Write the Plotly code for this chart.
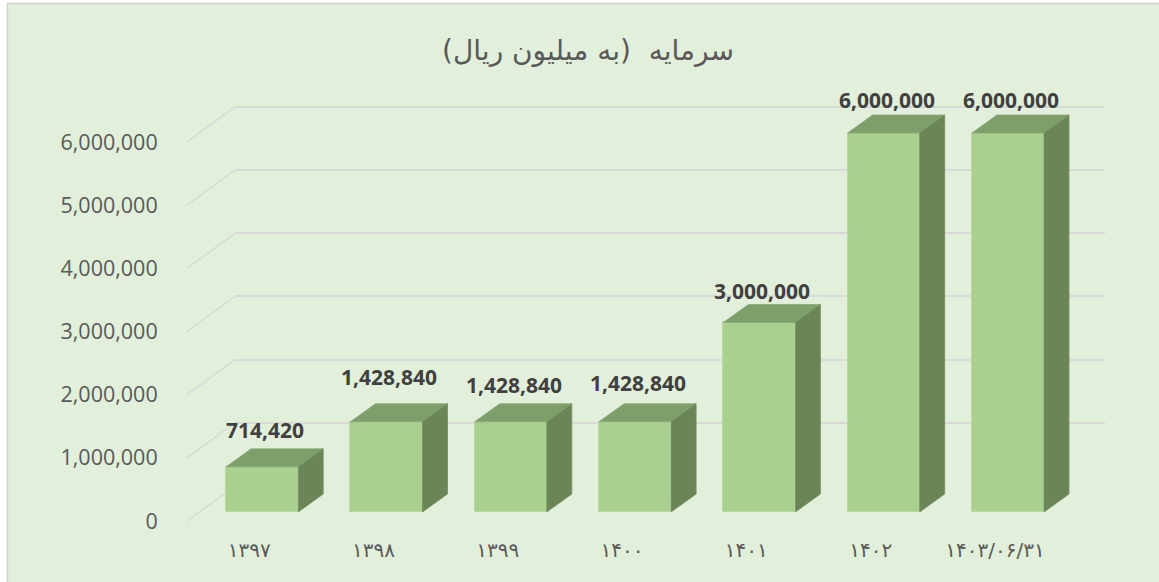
import plotly.graph_objects as go

# ---------------- data ----------------
CATEGORIES = ["۱۳۹۷", "۱۳۹۸", "۱۳۹۹", "۱۴۰۰", "۱۴۰۱", "۱۴۰۲", "۱۴۰۳/۰۶/۳۱"]
VALUES = [714420, 1428840, 1428840, 1428840, 3000000, 6000000, 6000000]
Y_TICKS = [0, 1000000, 2000000, 3000000, 4000000, 5000000, 6000000]
TITLE = "\u200fسرمایه  (به میلیون ریال)\u200f"

# ---------------- geometry / style ----------------
W, H = 1159, 582
PX_PER_CAT = 124.3
PX_PER_VAL = 63.17 / 1e6
PLOT_H = 421
FRONT_LEFT, FRONT_BASE = 187, 521      # front plane (axis labels)
BAR_DX, BAR_DY = 13, 9                 # bar front face offset from front plane
BACK_DX, BACK_DY = 48, 35              # back wall offset from front plane
DEPTH_DX, DEPTH_DY = 25, 18            # bar depth
YMAX = PLOT_H / PX_PER_VAL
NCAT = len(CATEGORIES)
XR = [-0.5, NCAT - 0.5]
PLOT_W = PX_PER_CAT * NCAT

BG = "#E2EFDA"
FRONT = "#A9D08E"
TOP = "#7F9F6A"
SIDE = "#6A8558"
GRID = "#D9D9D9"
TXT = "#595959"


def xdom(left):
    return [left / W, (left + PLOT_W) / W]


def ydom(base):
    return [(H - base) / H, (H - base + PLOT_H) / H]


def ypaper(base, v):
    return (H - base + v * PX_PER_VAL) / H


fig = go.Figure()

# back wall (gridlines) subplot x/y
fig.add_trace(go.Scatter(x=[], y=[], xaxis="x", yaxis="y", showlegend=False, hoverinfo="skip"))

# bars subplot x2/y2
xs = list(range(NCAT))
fig.add_trace(go.Bar(
    x=xs, y=VALUES, xaxis="x2", yaxis="y2", width=0.58,
    marker=dict(color=FRONT, line=dict(color="#B8DAA0", width=1)),
    showlegend=False, hovertemplate="%{y:,}<extra></extra>",
))

# front plane subplot x3/y3 (axis labels)
fig.add_trace(go.Scatter(x=[], y=[], xaxis="x3", yaxis="y3", showlegend=False, hoverinfo="skip"))

shapes = []
# chart-area background with border
shapes.append(dict(type="rect", xref="paper", yref="paper",
                   x0=7.5 / W, x1=1.05, y0=-0.05, y1=1 - 3.5 / H,
                   fillcolor=BG, line=dict(color="#D0D0D0", width=1.5), layer="below"))
# side-wall diagonal gridlines
for v in Y_TICKS:
    shapes.append(dict(type="line", xref="paper", yref="paper",
                       x0=FRONT_LEFT / W, y0=ypaper(FRONT_BASE, v),
                       x1=(FRONT_LEFT + BACK_DX) / W, y1=ypaper(FRONT_BASE - BACK_DY, v),
                       line=dict(color=GRID, width=1.5), layer="below"))

# 3D faces of bars
dx = DEPTH_DX / PX_PER_CAT
dy = DEPTH_DY / PX_PER_VAL
hw = 0.58 / 2
for i, v in enumerate(VALUES):
    xl, xr = i - hw, i + hw
    shapes.append(dict(type="path", xref="x2", yref="y2",
                       path=f"M {xl},{v} L {xr},{v} L {xr + dx},{v + dy} L {xl + dx},{v + dy} Z",
                       fillcolor=TOP, line=dict(color="#8AAA75", width=0.8)))
    shapes.append(dict(type="path", xref="x2", yref="y2",
                       path=f"M {xr},0 L {xr},{v} L {xr + dx},{v + dy} L {xr + dx},{dy} Z",
                       fillcolor=SIDE, line=dict(color="#738F60", width=0.8)))

LABEL_SHIFT = [37, 45, 37, 39, 31, 33, 33]
annotations = []
for i, v in enumerate(VALUES):
    annotations.append(dict(x=i, y=v, xref="x2", yref="y2", text=f"<b>{v:,}</b>",
                            showarrow=False, yshift=LABEL_SHIFT[i], xshift=3,
                            font=dict(family="Open Sans", size=21, color="#404040")))

hidden = dict(showgrid=False, zeroline=False, showticklabels=False, showline=False, ticks="",
              automargin=False)

fig.update_layout(
    template="none",
    width=W, height=H,
    margin=dict(l=0, r=0, t=0, b=0, pad=0, autoexpand=False),
    paper_bgcolor="white",
    plot_bgcolor="rgba(0,0,0,0)",
    showlegend=False,
    title=dict(text=TITLE, x=588 / W, xanchor="center", y=1 - 50 / H, yanchor="middle",
               xref="paper", yref="paper", automargin=False,
               font=dict(family="DejaVu Sans", size=28, color=TXT)),
    xaxis=dict(domain=xdom(FRONT_LEFT + BACK_DX), range=XR, anchor="y", **hidden),
    yaxis=dict(domain=ydom(FRONT_BASE - BACK_DY), range=[0, YMAX], anchor="x",
               showgrid=True, gridcolor=GRID, gridwidth=1.5, tickvals=Y_TICKS,
               zeroline=False, showticklabels=False, showline=False, ticks="",
               automargin=False),
    xaxis2=dict(domain=xdom(FRONT_LEFT + BAR_DX), range=XR, anchor="y2", **hidden),
    yaxis2=dict(domain=ydom(FRONT_BASE - BAR_DY), range=[0, YMAX], anchor="x2", **hidden),
    xaxis3=dict(domain=xdom(FRONT_LEFT), range=XR, anchor="y3",
                tickmode="array", tickvals=xs, ticktext=CATEGORIES,
                showgrid=False, zeroline=False, showline=False, automargin=False,
                ticks="outside", ticklen=11, tickcolor="rgba(0,0,0,0)",
                tickfont=dict(family="DejaVu Sans", size=20, color=TXT)),
    yaxis3=dict(domain=ydom(FRONT_BASE), range=[0, YMAX], anchor="x3",
                tickmode="array", tickvals=Y_TICKS, ticktext=[f"{t:,}" for t in Y_TICKS],
                showgrid=False, zeroline=False, showline=False, automargin=False,
                ticks="outside", ticklen=24, tickcolor="rgba(0,0,0,0)",
                tickfont=dict(family="Open Sans", size=21.5, color=TXT)),
    shapes=shapes,
    annotations=annotations,
    bargap=0,
)

fig.write_html("out.html")
